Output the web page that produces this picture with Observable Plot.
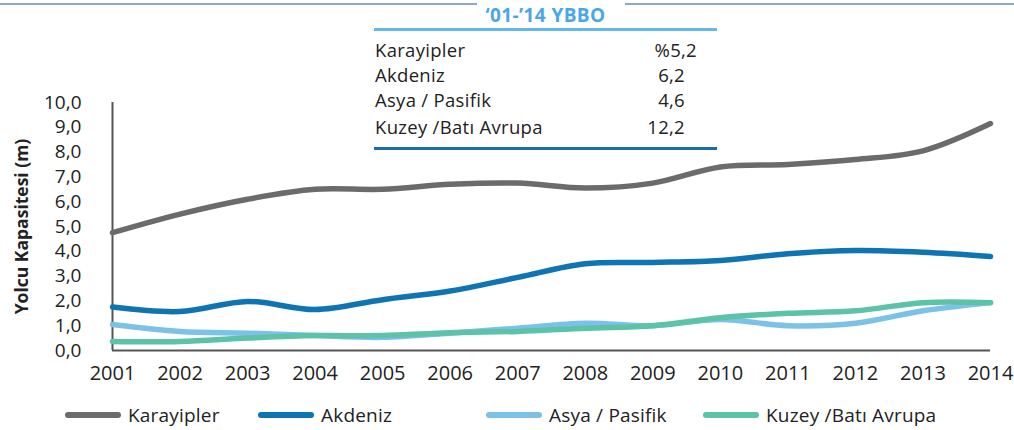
<!DOCTYPE html>
<html><head><meta charset="utf-8">
<script src="https://cdn.jsdelivr.net/npm/d3@7"></script>
<script src="https://cdn.jsdelivr.net/npm/@observablehq/plot@0.6"></script>
<style>
body{margin:0;background:#fff;font-family:"Open Sans",sans-serif;color:#222;}
#wrap{position:relative;width:1014px;height:430px;overflow:hidden;background:#fff;}
#chart{position:absolute;left:0;top:0;}
.topline{position:absolute;top:3px;height:2px;background:#8fa8c4;}
#tbl{position:absolute;left:374px;top:0;width:343px;height:152px;z-index:2;}
#tbl .title{position:absolute;left:0;width:343px;top:3px;height:25px;text-align:center;font-weight:700;font-size:19px;line-height:24px;color:#4aa6ea;letter-spacing:0.4px;border-bottom:3px solid #62b8e8;}
#tbl .hl{position:absolute;left:0;width:343px;}
#tbl .row{position:absolute;left:1px;width:310px;font-size:18.5px;line-height:22px;letter-spacing:0.3px;}
#tbl .row .v{position:absolute;right:0;top:0;}
#legend{position:absolute;left:0;top:402px;width:1014px;height:26px;}
.li{position:absolute;top:0;display:flex;align-items:center;font-size:19px;height:26px;letter-spacing:0.2px;}
.sw{width:56px;height:6px;border-radius:3px;margin-right:7px;}
</style></head>
<body><div id="wrap"><div id="chart"></div><div id="tbl"></div><div id="legend"></div></div>
<script>
// ---- data ----
const years = [2001,2002,2003,2004,2005,2006,2007,2008,2009,2010,2011,2012,2013,2014];
const seriesNames = ["Karayipler","Akdeniz","Asya / Pasifik","Kuzey /Batı Avrupa"];
const seriesColors = ["#6b6b6b","#0f74b4","#7cc2e8","#5cc2a8"];
const karayipler = [4.75,5.5,6.1,6.5,6.5,6.7,6.75,6.55,6.75,7.4,7.5,7.7,8.05,9.15];
const akdeniz    = [1.75,1.57,1.98,1.65,2.05,2.4,2.95,3.5,3.55,3.63,3.9,4.03,3.96,3.79];
const asyaPasifik= [1.05,0.77,0.7,0.6,0.53,0.7,0.9,1.1,1.0,1.25,1.0,1.1,1.6,1.93];
const kuzeyBati  = [0.36,0.36,0.5,0.6,0.6,0.72,0.77,0.9,1.0,1.32,1.5,1.6,1.93,1.93];
const yTicks = [0,1,2,3,4,5,6,7,8,9,10];
const yLabel = "Yolcu Kapasitesi (m)";
const tableTitle = "‘01-’14 YBBO";
const tableLabels = ["Karayipler","Akdeniz","Asya / Pasifik","Kuzey /Batı Avrupa"];
const tableValues = ["%5,2","6,2","4,6","12,2"];

// ---- build ----
const allValues = [karayipler, akdeniz, asyaPasifik, kuzeyBati];
const rows = [];
seriesNames.forEach((s,i)=>years.forEach((y,j)=>rows.push({series:s, year:y, value:allValues[i][j]})));

const chart = Plot.plot({
  width:1014, height:395,
  marginLeft:112, marginRight:24, marginTop:102, marginBottom:45,
  style:{fontFamily:"'Open Sans',sans-serif", color:"#222", background:"transparent"},
  x:{domain:[2001,2014]},
  y:{domain:[0,10]},
  color:{domain:seriesNames, range:seriesColors},
  marks:[
    Plot.axisY({ticks:yTicks, tickFormat:d=>d.toFixed(1).replace(".",","), tickSize:0, tickPadding:31, fontSize:19, label:null}),
    Plot.axisX({ticks:years, tickFormat:d=>String(d), tickSize:0, tickPadding:15, fontSize:20, label:null}),
    Plot.ruleY([0], {stroke:"#555", strokeWidth:2}),
    Plot.ruleX([2001], {stroke:"#555", strokeWidth:2}),
    Plot.line(rows, {x:"year", y:"value", z:"series", stroke:"series", strokeWidth:5.5, curve:"catmull-rom", strokeLinecap:"round", strokeLinejoin:"round"}),
    Plot.text([yLabel], {frameAnchor:"left", textAnchor:"middle", rotate:-90, dx:-90, dy:0, fontSize:17.5, fontWeight:700, fill:"#222", fontFamily:"'Open Sans',sans-serif"})
  ]
});
document.getElementById("chart").appendChild(chart);

// top decorative line with gap behind title
const wrap = document.getElementById("wrap");
[[0,477],[625,1014]].forEach(([a,b])=>{const d=document.createElement("div");d.className="topline";d.style.left=a+"px";d.style.width=(b-a)+"px";wrap.appendChild(d);});

// table
const tbl = document.getElementById("tbl");
const t = document.createElement("div"); t.className="title"; t.textContent=tableTitle; tbl.appendChild(t);
const rowTops=[39,64,89,116];
const valRight=[-12,0,0,0];
tableLabels.forEach((l,i)=>{
  const r=document.createElement("div"); r.className="row"; r.style.top=rowTops[i]+"px";
  r.textContent=l;
  const v=document.createElement("span"); v.className="v"; v.style.right=valRight[i]+"px"; v.textContent=tableValues[i]; r.appendChild(v);
  tbl.appendChild(r);
});
const h2=document.createElement("div"); h2.className="hl"; h2.style.top="147px"; h2.style.height="3px"; h2.style.background="#1a6ea8"; tbl.appendChild(h2);

// legend
const legLeft=[65,258,486,703];
const leg=document.getElementById("legend");
seriesNames.forEach((s,i)=>{
  const it=document.createElement("div"); it.className="li"; it.style.left=legLeft[i]+"px";
  const sw=document.createElement("div"); sw.className="sw"; sw.style.background=seriesColors[i];
  const tx=document.createElement("span"); tx.textContent=s;
  it.appendChild(sw); it.appendChild(tx); leg.appendChild(it);
});
</script>
</body></html>
